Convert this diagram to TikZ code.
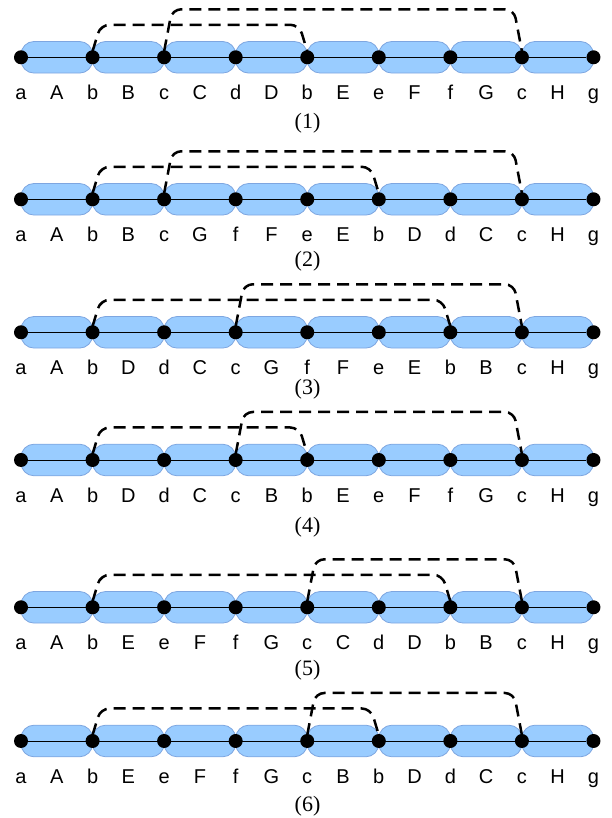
\documentclass[tikz,border=0pt]{standalone}
\usepackage{fontspec}
\setmainfont{Liberation Serif}
\setsansfont{Liberation Sans}
\usepackage{tikz}
\definecolor{pillfill}{HTML}{99CCFF}
\definecolor{pilledge}{HTML}{7EA6E0}
\tikzstyle{mypill} = [fill=pillfill, draw=pilledge, line width=0.8pt, rounded corners=13pt]
\tikzstyle{mydot} = [circle, fill=black, inner sep=0pt, minimum size=14pt]
\tikzstyle{myarc} = [black, line width=2.5pt, dash pattern=on 12pt off 7pt, rounded corners=9pt]
\tikzstyle{myletter} = [font=\sffamily\fontsize{20}{20}\selectfont, anchor=base, inner sep=0pt]
\tikzstyle{mytag} = [font=\fontsize{22}{22}\selectfont, inner sep=0pt]

\begin{document}
\begin{tikzpicture}[x=1pt,y=1pt]
\useasboundingbox (0,0) rectangle (612,818);
% row / height / tag height / end of lower arc / start of upper arc / letters
\foreach \r/\y/\ty/\lo/\up/\word in {
    1/760.7/694.6/4/2/{a,A,b,B,c,C,d,D,b,E,e,F,f,G,c,H,g},
    2/618.7/556.3/5/2/{a,A,b,B,c,G,f,F,e,E,b,D,d,C,c,H,g},
    3/485.7/428.3/6/3/{a,A,b,D,d,C,c,G,f,F,e,E,b,B,c,H,g},
    4/358.0/290.7/4/3/{a,A,b,D,d,C,c,B,b,E,e,F,f,G,c,H,g},
    5/210.7/147.7/6/4/{a,A,b,E,e,F,f,G,c,C,d,D,b,B,c,H,g},
    6/77.0/12.0/5/4/{a,A,b,E,e,F,f,G,c,B,b,D,d,C,c,H,g}} {
  \foreach \k in {0,...,7}
    \draw[mypill] (21+71.56*\k, \y-15.8) rectangle ++(71.56, 31.6);
  \foreach \k in {0,...,8}
    \node[mydot] (d\r-\k) at (21+71.56*\k, \y) {};
  \draw[line width=0.8pt] (d\r-0) -- (d\r-8);
  % the two swaps
  \draw[myarc] ([yshift=6pt]d\r-1.center) -- ([xshift=8pt,yshift=32.5pt]d\r-1.center)
    -- ([xshift=-8pt,yshift=32.5pt]d\r-\lo.center) -- ([yshift=6pt]d\r-\lo.center);
  \draw[myarc] ([yshift=6pt]d\r-\up.center) -- ([xshift=8pt,yshift=48pt]d\r-\up.center)
    -- ([xshift=-8pt,yshift=48pt]d\r-7.center) -- ([yshift=6pt]d\r-7.center);
  \foreach \s [count=\i from 0] in \word
    \node[myletter] (l\r-\i) at (21+35.78*\i, \y-42.7) {\s};
  \node[mytag] (tag\r) at (307.5, \ty) {(\r)};
}
\end{tikzpicture}
\end{document}
